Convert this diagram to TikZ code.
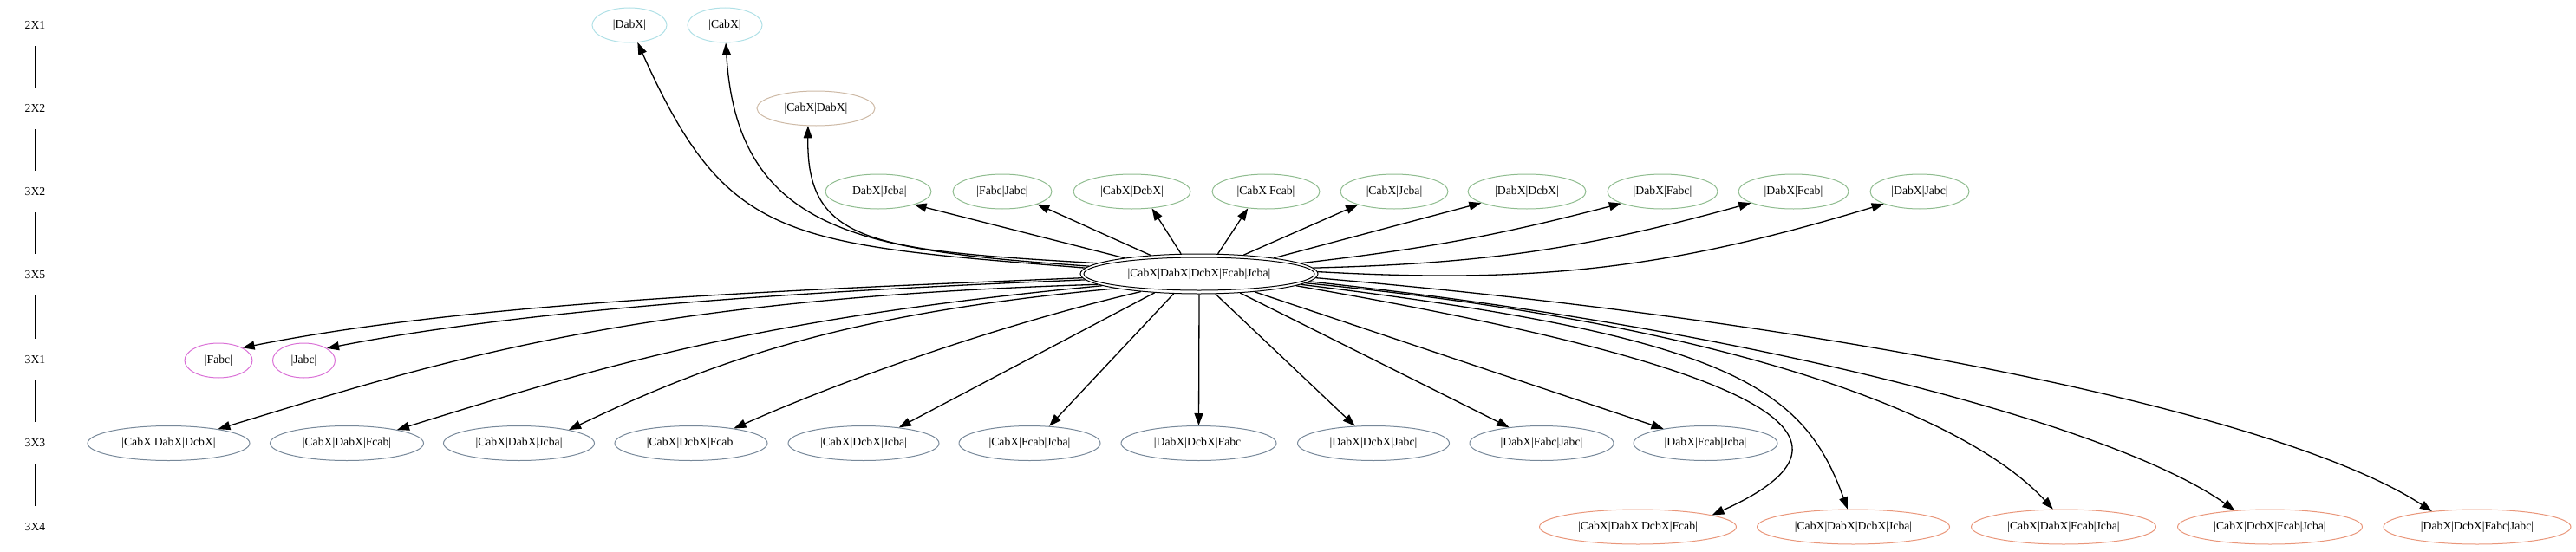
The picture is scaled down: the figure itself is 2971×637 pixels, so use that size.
\documentclass[tikz,border=0pt]{standalone}
\usepackage{fontspec}
\setmainfont{Liberation Serif}
\usetikzlibrary{arrows.meta,shapes.geometric}
\definecolor{colA}{RGB}{176,224,230}
\definecolor{colB}{RGB}{205,185,165}
\definecolor{colC}{RGB}{143,188,143}
\definecolor{colD}{RGB}{218,112,214}
\definecolor{colE}{RGB}{119,136,153}
\definecolor{colF}{RGB}{233,150,122}
\newcommand\gvfont{\fontsize{13.7pt}{16pt}\selectfont}
\begin{document}
\begin{tikzpicture}[x=1pt,y=-1pt,
  nd/.style={ellipse, draw, inner sep=0pt, minimum height=40pt, line width=1pt, font=\gvfont},
  rA/.style={nd, draw=colA}, rB/.style={nd, draw=colB}, rC/.style={nd, draw=colC},
  rD/.style={nd, draw=colD}, rE/.style={nd, draw=colE}, rF/.style={nd, draw=colF},
  rl/.style={inner sep=0pt, minimum height=48pt, font=\gvfont},
  rk/.style={line width=1pt},
  ed/.style={line width=1.3pt, -{Triangle[length=14pt,width=10pt]}}]
\useasboundingbox (0,0) rectangle (2971,637);
% rank labels
\node[rl] (r1) at (40.5,29) {2X1};
\node[rl] (r2) at (40.5,125) {2X2};
\node[rl] (r3) at (40.5,221) {3X2};
\node[rl] (r4) at (40.5,317) {3X5};
\node[rl] (r5) at (40.5,415) {3X1};
\node[rl] (r6) at (40.5,511) {3X3};
\node[rl] (r7) at (40.5,608) {3X4};
\draw[rk] (r1) -- (r2);
\draw[rk] (r2) -- (r3);
\draw[rk] (r3) -- (r4);
\draw[rk] (r4) -- (r5);
\draw[rk] (r5) -- (r6);
\draw[rk] (r6) -- (r7);
% center
\node[ellipse, draw, inner sep=0pt, minimum width=274pt, minimum height=46pt, line width=1pt, font=\gvfont] (C) at (1383,316) {|CabX|DabX|DcbX|Fcab|Jcba|};
\draw[line width=1pt] (C.center) ellipse [x radius=133pt, y radius=19pt];
% 2X1
\node[rA, minimum width=86pt] (dabx1) at (726,29) {|DabX|};
\node[rA, minimum width=86pt] (cabx1) at (836,29) {|CabX|};
% 2X2
\node[rB, minimum width=136pt] (cd2) at (941,125) {|CabX|DabX|};
% 3X2
\node[rC, minimum width=122pt] (dj) at (1013,221) {|DabX|Jcba|};
\node[rC, minimum width=114pt] (fj) at (1156,221) {|Fabc|Jabc|};
\node[rC, minimum width=135pt] (cd) at (1305.5,221) {|CabX|DcbX|};
\node[rC, minimum width=124pt] (cf) at (1460,221) {|CabX|Fcab|};
\node[rC, minimum width=124pt] (cj) at (1608,221) {|CabX|Jcba|};
\node[rC, minimum width=136pt] (dd) at (1761,221) {|DabX|DcbX|};
\node[rC, minimum width=127pt] (dfa) at (1917.5,221) {|DabX|Fabc|};
\node[rC, minimum width=127pt] (dfc) at (2068.5,221) {|DabX|Fcab|};
\node[rC, minimum width=114pt] (dja) at (2214,221) {|DabX|Jabc|};
% 3X1
\node[rD, minimum width=78pt] (fabc) at (252,416) {|Fabc|};
\node[rD, minimum width=72pt] (jabc) at (350.5,416) {|Jabc|};
% 3X3
\node[rE, minimum width=187pt] (t1) at (194.5,511.5) {|CabX|DabX|DcbX|};
\node[rE, minimum width=177pt] (t2) at (400,511.5) {|CabX|DabX|Fcab|};
\node[rE, minimum width=174pt] (t3) at (598.5,511.5) {|CabX|DabX|Jcba|};
\node[rE, minimum width=176pt] (t4) at (797,511.5) {|CabX|DcbX|Fcab|};
\node[rE, minimum width=174pt] (t5) at (996,511.5) {|CabX|DcbX|Jcba|};
\node[rE, minimum width=163pt] (t6) at (1187.5,511.5) {|CabX|Fcab|Jcba|};
\node[rE, minimum width=179pt] (t7) at (1382.5,511.5) {|DabX|DcbX|Fabc|};
\node[rE, minimum width=175pt] (t8) at (1584,511.5) {|DabX|DcbX|Jabc|};
\node[rE, minimum width=166pt] (t9) at (1778,511.5) {|DabX|Fabc|Jabc|};
\node[rE, minimum width=166pt] (t10) at (1967,511.5) {|DabX|Fcab|Jcba|};
% 3X4
\node[rF, minimum width=227pt] (q1) at (1889,608) {|CabX|DabX|DcbX|Fcab|};
\node[rF, minimum width=222pt] (q2) at (2137.5,608) {|CabX|DabX|DcbX|Jcba|};
\node[rF, minimum width=213pt] (q3) at (2380,608) {|CabX|DabX|Fcab|Jcba|};
\node[rF, minimum width=213pt] (q4) at (2618,608) {|CabX|DcbX|Fcab|Jcba|};
\node[rF, minimum width=216pt] (q5) at (2857,608) {|DabX|DcbX|Fabc|Jabc|};
% edges up
\draw[ed] (C.177.3) .. controls +(-350,-28) and +(103,229) .. (dabx1.-65.8);
\draw[ed] (C.176.4) .. controls +(-257,-18) and +(13,221) .. (cabx1.-87);
\draw[ed] (C.174.8) .. controls +(-262,-15) and +(-2,135) .. (cd2.-114.2);
\draw[ed] (C.168.6) -- (dj.-20.3);
\draw[ed] (C.159.8) -- (fj.-20.4);
\draw[ed] (C.132.4) -- (cd.-40.7);
\draw[ed] (C.47.6) -- (cf.-137.3);
\draw[ed] (C.23.1) -- (cj.-160.7);
\draw[ed] (C.12.6) -- (dd.-166);
\draw[ed] (C.6.6) to[bend right=4] (dfa.-164);
\draw[ed] (C.3.7) to[bend right=7] (dfc.-165.1);
\draw[ed] (C.1.3) to[bend right=10] (dja.-161.3);
% 3X1
\draw[ed] (C.182.1) .. controls +(-400,16) and +(246,-49) .. (fabc.28);
\draw[ed] (C.183.8) .. controls +(-350,14) and +(220,-43) .. (jabc.28);
% 3X3
\draw[ed] (C.186) .. controls +(-550,16.5) and +(239.5,-72.5) .. (t1.16);
\draw[ed] (C.187.7) .. controls +(-398,37.6) and +(238.8,-74.2) .. (t2.15.5);
\draw[ed] (C.190.8) .. controls +(-299,27.6) and +(180,-86) .. (t3.15.7);
\draw[ed] (C.197) .. controls +(-150,35) and +(140,-62) .. (t4.19.2);
\draw[ed] (C.203.6) -- (t5.24);
\draw[ed] (C.218.2) -- (t6.41.3);
\draw[ed] (C.south) -- (t7.north);
\draw[ed] (C.309.9) -- (t8.137.3);
\draw[ed] (C.335.9) -- (t9.154.9);
\draw[ed] (C.342.1) -- (t10.161.8);
% 3X4
\draw[ed] (C.353) .. controls +(591,102) and +(182,-82) .. (q1.9);
\draw[ed] (C.354.5) .. controls +(496,60) and +(-51,-141) .. (q2.108);
\draw[ed] (C.355.5) .. controls +(491,47) and +(-99,-108) .. (q3.121.6);
\draw[ed] (C.356.5) .. controls +(508,54) and +(-137,-98) .. (q4.155.7);
\draw[ed] (C.358) .. controls +(631,54) and +(-165,-108) .. (q5.161.4);
\end{tikzpicture}
\end{document}
